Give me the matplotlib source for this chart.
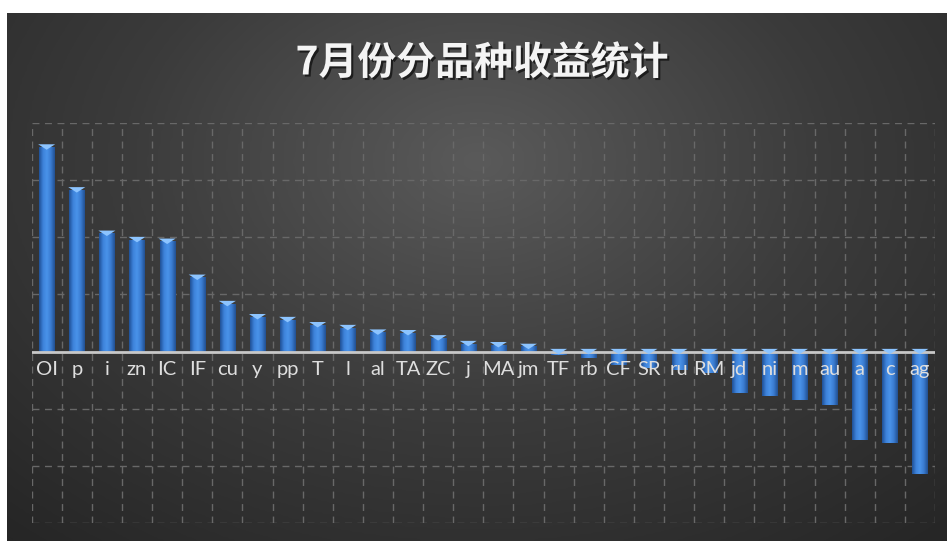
import numpy as np
import matplotlib.pyplot as plt
import matplotlib.patheffects as pe
from matplotlib.colors import LinearSegmentedColormap

plt.rcParams['font.family'] = ['Noto Sans CJK SC', 'DejaVu Sans']

# Data (one grid step = 1)
varieties = ['OI', 'p', 'i', 'zn', 'IC', 'IF', 'cu', 'y', 'pp', 'T', 'l', 'al', 'TA', 'ZC', 'j',
             'MA', 'jm', 'TF', 'rb', 'CF', 'SR', 'ru', 'RM', 'jd', 'ni', 'm', 'au', 'a', 'c', 'ag']
returns = [3.58, 2.83, 2.07, 1.96, 1.93, 1.30, 0.84, 0.61, 0.56, 0.47, 0.42, 0.34, 0.33, 0.24, 0.14,
           0.12, 0.09, -0.06, -0.11, -0.23, -0.29, -0.32, -0.37, -0.72, -0.78, -0.85, -0.93, -1.54, -1.60, -2.15]
title = '7月份分品种收益统计'

W, H = 947, 541
fig = plt.figure(figsize=(W / 100, H / 100), dpi=100)
fig.patch.set_facecolor('white')

# dark panel with a soft radial glow
bg = fig.add_axes([7 / W, 0, 1 - 7 / W, (H - 13) / H])
bg.set_axis_off()
gx, gy = np.meshgrid(np.linspace(0, 1, 400), np.linspace(0, 1, 240))
d = np.sqrt(((gx - 0.5) / 0.75) ** 2 + ((gy - 0.28) / 0.95) ** 2)
d = np.clip(d, 0, 1)
glow = LinearSegmentedColormap.from_list('glow', ['#5a5a5a', '#3b3b3b', '#262626'])
bg.imshow(d, cmap=glow, aspect='auto', extent=[0, 1, 1, 0], interpolation='bicubic')
bg.set_xlim(0, 1)
bg.set_ylim(1, 0)

ax = fig.add_axes([31.6 / W, 18 / H, 903.4 / W, 400 / H])
ax.set_facecolor('none')
x = np.arange(len(varieties))

bars = ax.bar(x, returns, width=0.5, color='#2f6cc0', zorder=3)

# cylinder shading on every bar
shade = LinearSegmentedColormap.from_list('shade', ['#1f4f94', '#3d82da', '#4a93ea', '#3a7bd0', '#214f90'])
grad = np.linspace(0, 1, 64).reshape(1, -1)
for b in bars:
    x0, w = b.get_x(), b.get_width()
    y0, h = b.get_y(), b.get_height()
    ax.imshow(grad, cmap=shade, aspect='auto', extent=[x0, x0 + w, y0, y0 + h],
              zorder=3.5, interpolation='bicubic')

# light top face of the bars
top = [max(v, 0) for v in returns]
cap = [(-1, 0.32), (1, 0.32), (0, -0.32)]
ax.scatter(x, top, marker=cap, s=150, color='#8cc4ff', edgecolors='none', zorder=5)

ax.axhline(0, color='#c8c8c8', lw=2, zorder=4)

for xi, name in zip(x, varieties):
    ax.annotate(name, (xi, 0), xytext=(0, -13), textcoords='offset points',
                ha='center', va='center', fontsize=14.5, color='#dedede',
                family=['Lato', 'DejaVu Sans'], zorder=6)

ax.set_xlim(-0.5, len(varieties) - 0.5)
ax.set_ylim(-3, 4)
ax.set_xticks(np.arange(-0.5, len(varieties), 1))
ax.set_yticks(np.arange(-3, 5, 1))
ax.grid(True, color='#686868', linestyle=(0, (5, 4)), lw=1, zorder=1)
ax.tick_params(length=0, labelbottom=False, labelleft=False)
for s in ax.spines.values():
    s.set_visible(False)

fig.text(482 / W, 1 - 63 / H, title, ha='center', va='center', fontsize=28,
         fontweight='bold', color='#f4f4f4',
         path_effects=[pe.withSimplePatchShadow(offset=(1.5, -1.5), shadow_rgbFace='black', alpha=0.6)])

fig.savefig('out.png', dpi=100, facecolor=fig.get_facecolor())
